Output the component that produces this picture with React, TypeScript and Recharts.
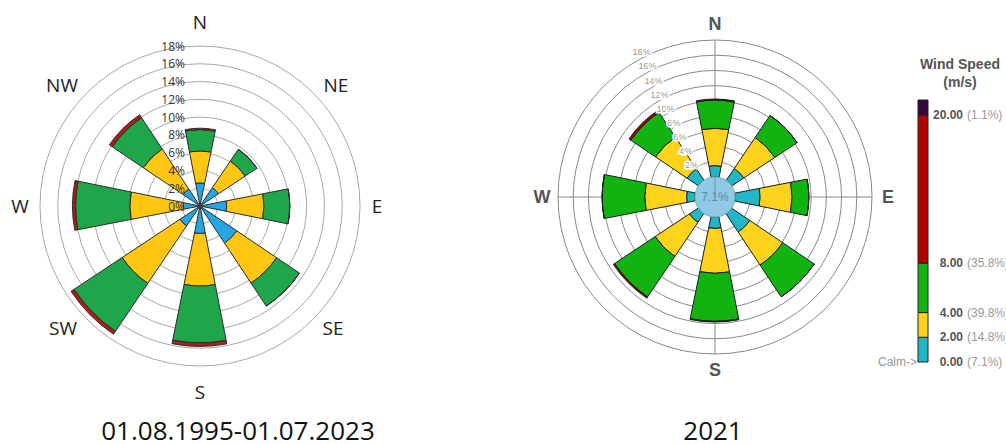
import React from 'react';
import {
  RadialBarChart,
  RadialBar,
  PolarAngleAxis,
  PolarRadiusAxis,
  PolarGrid,
  PieChart,
  Pie,
  BarChart,
  Bar,
  XAxis,
  YAxis,
} from 'recharts';

const directions = ['N', 'NE', 'E', 'SE', 'S', 'SW', 'W', 'NW'];

// 01.08.1995-01.07.2023, frequency in % by direction and speed class
const longSlow = [2.6, 2.5, 3.0, 5.0, 3.1, 2.7, 1.9, 2.3];
const longLight = [3.6, 3.6, 4.2, 5.4, 5.9, 7.8, 6.0, 5.4];
const longModerate = [2.4, 1.6, 2.9, 3.1, 6.4, 6.5, 6.1, 4.2];
const longStrong = [0.15, 0, 0, 0, 0.4, 0.4, 0.35, 0.4];

// 2021
const yearSlow = [1.5, 1.9, 3.3, 2.9, 1.5, 1.4, 1.1, 1.8];
const yearLight = [4.9, 4.9, 4.2, 5.2, 5.9, 5.4, 5.5, 5.0];
const yearModerate = [3.7, 3.5, 2.2, 5.0, 6.3, 6.4, 5.6, 3.9];
const yearStrong = [0.15, 0, 0, 0, 0.1, 0.2, 0, 0.3];
const yearCalm = 7.1;

const longTicks = [0, 2, 4, 6, 8, 10, 12, 14, 16, 18];
const yearTicks = [2, 4, 6, 8, 10, 12, 14, 16, 18];

// wind speed legend (m/s)
const speedBreaks = [0, 2, 4, 8, 20];
const speedShares = ['7.1%', '14.8%', '39.8%', '35.8%', '1.1%'];
const speedTop = 21.2;

const longRows = directions.map((dir, i) => ({
  dir,
  slow: longSlow[i],
  light: longLight[i],
  moderate: longModerate[i],
  strong: longStrong[i],
}));

const yearRows = directions.map((dir, i) => ({
  dir,
  slow: yearSlow[i],
  light: yearLight[i],
  moderate: yearModerate[i],
  strong: yearStrong[i],
}));

const calmRows = [{ name: 'Calm', value: yearCalm }];

const legendRow: Record<string, number | string> = { name: 'speed' };
speedBreaks.forEach((b, i) => {
  const next = i + 1 < speedBreaks.length ? speedBreaks[i + 1] : speedTop;
  legendRow['band' + i] = next - b;
});

const LONG = { slow: '#25a6e4', light: '#ffc612', moderate: '#1fa64b', strong: '#b01c1c', edge: '#2b2b2b' };
const YEAR = { slow: '#22b7c6', light: '#ffd31c', moderate: '#10b310', strong: '#a30000', edge: '#1c1c1c' };
const legendColors = ['#22b7c6', '#ffd31c', '#12b312', '#b30000', '#35063f'];

const SANS = "'Liberation Sans', Arial, sans-serif";
const OPEN = "'Open Sans', sans-serif";

const segments = ['slow', 'light', 'moderate', 'strong'] as const;

// the stacked sectors land half a band away from the angle ticks, so the
// bar charts are turned by that half band and the compass labels get their
// own overlay axis that starts at due north
const BAR_START = 67.5;
const BAR_END = -292.5;

// small nudges so the compass words sit like text boxes around the ring
const compassNudge: Record<string, [number, number]> = {
  N: [0, -3],
  NE: [8, 7],
  E: [-4, 0],
  SE: [5, -6],
  S: [0, 5],
  SW: [-9, -6],
  W: [1, 0],
  NW: [-10, 7],
};

const LongCompassTick = (props: any) => {
  const v = props.payload.value;
  const [dx, dy] = compassNudge[v] || [0, 0];
  return (
    <text x={props.x + dx} y={props.y + dy} textAnchor="middle" dominantBaseline="central" fontFamily={OPEN} fontSize={19} fill="#222">
      {v}
    </text>
  );
};

const YearCompassTick = (props: any) => {
  const v = props.payload.value;
  if (v.length > 1) return <g />;
  return (
    <text x={props.x} y={props.y} textAnchor="middle" dominantBaseline="central" fontFamily={SANS} fontWeight="bold" fontSize={18} fill="#555">
      {v}
    </text>
  );
};

const LongPctTick = (props: any) => (
  <text x={props.x - 15} y={props.y} textAnchor="end" dominantBaseline="central" fontFamily={OPEN} fontSize={12} fill="#333">
    {props.payload.value}%
  </text>
);

const YearPctTick = (props: any) => (
  <text
    x={props.x - 3}
    y={props.y}
    textAnchor="end"
    dominantBaseline="central"
    fontFamily={SANS}
    fontSize={9}
    fill="#999"
    stroke="#fff"
    strokeWidth={3}
    paintOrder="stroke"
  >
    {props.payload.value}%
  </text>
);

const LegendTick = (props: any) => {
  const i = speedBreaks.indexOf(props.payload.value);
  return (
    <g>
      <text x={props.x + 27} y={props.y} textAnchor="end" dominantBaseline="central" fontFamily={SANS} fontWeight="bold" fontSize={12} fill="#555">
        {props.payload.value.toFixed(2)}
      </text>
      <text x={props.x + 31} y={props.y} textAnchor="start" dominantBaseline="central" fontFamily={SANS} fontSize={12} fill="#999">
        ({speedShares[i]})
      </text>
      {i === 0 && (
        <text x={props.x - 19} y={props.y} textAnchor="end" dominantBaseline="central" fontFamily={SANS} fontSize={12} fill="#999">
          Calm-&gt;
        </text>
      )}
    </g>
  );
};

const CalmLabel = (props: any) => (
  <text x={props.cx} y={props.cy} textAnchor="middle" dominantBaseline="central" fontFamily={SANS} fontSize={12} fill="#5a86a8">
    {props.value.toFixed(1)}%
  </text>
);

const caption: React.CSSProperties = {
  position: 'absolute',
  top: 417,
  fontFamily: OPEN,
  fontSize: 26,
  lineHeight: '26px',
  color: '#111',
  whiteSpace: 'nowrap',
  textAlign: 'center',
};

const layer: React.CSSProperties = { position: 'absolute', top: 0 };
const noMargin = { top: 0, right: 0, bottom: 0, left: 0 };

export default function App() {
  return (
    <div style={{ position: 'absolute', left: 0, top: 0, width: 1006, height: 444, overflow: 'hidden', background: '#fff' }}>
      {/* long-term rose */}
      <div style={{ ...layer, left: 0 }}>
        <RadialBarChart
          width={400}
          height={444}
          data={longRows}
          cx={200}
          cy={206}
          innerRadius={0}
          outerRadius={160}
          startAngle={BAR_START}
          endAngle={BAR_END}
          layout="centric"
          margin={noMargin}
        >
          <PolarGrid gridType="circle" radialLines={false} stroke="#a8a8a8" />
          <PolarAngleAxis type="category" dataKey="dir" axisLine={false} tickLine={false} tick={false} />
          {segments.map((k) => (
            <RadialBar
              key={k}
              dataKey={k}
              stackId="long"
              barSize={22.5}
              fill={LONG[k]}
              stroke={LONG.edge}
              strokeWidth={1}
              isAnimationActive={false}
            />
          ))}
          <PolarRadiusAxis
            type="number"
            domain={[0, 18]}
            ticks={longTicks}
            angle={90}
            axisLine={false}
            tickLine={false}
            tick={LongPctTick}
          />
        </RadialBarChart>
      </div>
      <div style={{ ...layer, left: 0 }}>
        <RadialBarChart width={400} height={444} data={longRows} cx={200} cy={206} innerRadius={0} outerRadius={160} startAngle={90} endAngle={-270} layout="centric" margin={noMargin}>
          <PolarAngleAxis type="category" dataKey="dir" axisLine={false} tickLine={false} tickSize={21} tick={LongCompassTick} />
        </RadialBarChart>
      </div>

      {/* 2021 rose */}
      <div style={{ ...layer, left: 520 }}>
        <RadialBarChart
          width={400}
          height={400}
          data={yearRows}
          cx={195}
          cy={197}
          innerRadius={20}
          outerRadius={157}
          startAngle={BAR_START}
          endAngle={BAR_END}
          layout="centric"
          margin={noMargin}
        >
          <PolarGrid gridType="circle" polarAngles={[0, 90, 180, 270]} outerRadius={163} stroke="#8a8a8a" />
          <PolarAngleAxis type="category" dataKey="dir" axisLine={false} tickLine={false} tick={false} />
          {segments.map((k) => (
            <RadialBar
              key={k}
              dataKey={k}
              stackId="year"
              barSize={22.5}
              fill={YEAR[k]}
              stroke={YEAR.edge}
              strokeWidth={1}
              isAnimationActive={false}
            />
          ))}
          <PolarRadiusAxis
            type="number"
            domain={[0, 18]}
            ticks={yearTicks}
            angle={113}
            axisLine={false}
            tickLine={false}
            tick={YearPctTick}
          />
        </RadialBarChart>
      </div>
      <div style={{ ...layer, left: 520 }}>
        <RadialBarChart width={400} height={400} data={yearRows} cx={195} cy={197} innerRadius={20} outerRadius={157} startAngle={90} endAngle={-270} layout="centric" margin={noMargin}>
          <PolarAngleAxis type="category" dataKey="dir" axisLine={false} tickLine={false} tickSize={16} tick={YearCompassTick} />
        </RadialBarChart>
      </div>
      <div style={{ ...layer, left: 520 }}>
        <PieChart width={400} height={400} margin={noMargin}>
          <Pie
            data={calmRows}
            dataKey="value"
            cx={195}
            cy={197}
            innerRadius={0}
            outerRadius={20}
            startAngle={90}
            endAngle={-270}
            fill="#8fc9e5"
            stroke="#6fa9c9"
            label={CalmLabel}
            labelLine={false}
            isAnimationActive={false}
          />
        </PieChart>
      </div>

      {/* speed legend */}
      <div style={{ position: 'absolute', left: 900, top: 55, width: 120, textAlign: 'center', fontFamily: SANS, fontWeight: 'bold', fontSize: 14, lineHeight: '18px', color: '#555' }}>
        Wind Speed
        <br />
        (m/s)
      </div>
      <div style={{ position: 'absolute', left: 840, top: 90 }}>
        <BarChart width={166} height={290} data={[legendRow]} margin={{ top: 10, right: 0, bottom: 18, left: 78 }} barCategoryGap={0}>
          <XAxis dataKey="name" hide />
          <YAxis
            orientation="right"
            type="number"
            domain={[0, speedTop]}
            ticks={speedBreaks}
            interval={0}
            axisLine={false}
            tickLine={false}
            width={78}
            tick={LegendTick}
          />
          {speedBreaks.map((b, i) => (
            <Bar
              key={b}
              dataKey={'band' + i}
              stackId="speed"
              fill={legendColors[i]}
              stroke="#222"
              strokeWidth={1}
              isAnimationActive={false}
            />
          ))}
        </BarChart>
      </div>

      <div style={{ ...caption, left: 88, width: 300 }}>01.08.1995-01.07.2023</div>
      <div style={{ ...caption, left: 663, width: 100 }}>2021</div>
    </div>
  );
}
